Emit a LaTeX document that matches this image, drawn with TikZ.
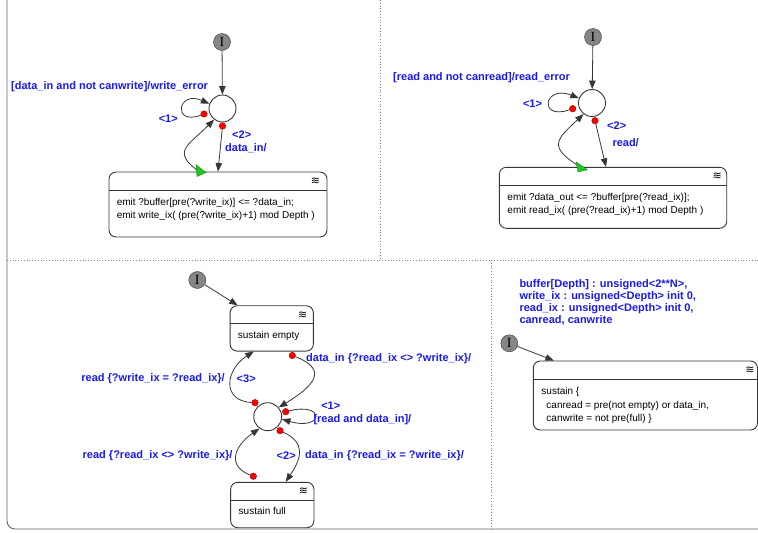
\documentclass[tikz,border=0pt]{standalone}
\usepackage{fontspec}
\setmainfont{Liberation Sans}
\newfontfamily\initfont{Liberation Serif}
\newfontfamily\iconfont{DejaVu Sans}
\usetikzlibrary{arrows.meta}
\definecolor{labelblue}{RGB}{25,25,240}
\definecolor{termgreen}{RGB}{30,200,30}
\definecolor{linegray}{RGB}{55,55,55}
\tikzstyle{init node}    = [circle,draw=linegray,fill=gray!95,inner sep=0,minimum size=17pt,font=\initfont\fontsize{14}{14}\selectfont]
\tikzstyle{simple state} = [circle,draw=linegray,fill=white,inner sep=0,minimum size=27pt,line width=0.9pt]
\tikzstyle{abort dot}    = [circle,draw=red!60!black,fill=red,inner sep=0,minimum size=6.5pt,line width=0.4pt]
\tikzstyle{macro box}    = [rectangle,rounded corners=7pt,draw=linegray,fill=white,line width=0.9pt,inner sep=0]
\tikzstyle{trans}        = [draw=linegray,line width=0.8pt,-{Triangle[length=8.5pt,width=6.5pt]}]
\tikzstyle{trans label}  = [text=labelblue,font=\bfseries\fontsize{11}{12}\selectfont,inner sep=0]
\tikzstyle{body text}    = [font=\fontsize{10}{13.4}\selectfont,align=left,inner sep=0,anchor=base west]
\tikzstyle{wave icon}    = [font=\iconfont\fontsize{11}{11}\selectfont,inner sep=0]
\tikzstyle{term mark}    = [fill=termgreen,draw=termgreen!60!black,line width=0.3pt]

\begin{document}
\begin{tikzpicture}[x=1pt,y=-1pt]
\useasboundingbox (0,0) rectangle (758,533);

    % frame and separators
    \draw[draw=gray!80!black,line width=0.9pt,rounded corners=8pt] (7,0) -- (7,529) -- (758,529);
    \draw[dotted,draw=gray,line width=0.8pt] (380,0) -- (380,260);
    \draw[dotted,draw=gray,line width=0.8pt] (7,260) -- (758,260);
    \draw[dotted,draw=gray,line width=0.8pt] (491,260) -- (491,529);

    % write side
    \node(I1)[init node] at (222,42) {I};
    \node(S1)[simple state] at (222.5,108.5) {};
    \node(B1)[macro box, minimum width=218pt, minimum height=65pt] at (218,204.5) {};
    \draw[draw=linegray,line width=0.8pt] ([yshift=-18.5pt]B1.north west) -- ([yshift=-18.5pt]B1.north east);
    \node(W1)[wave icon] at ([xshift=-12pt,yshift=-9.5pt]B1.north east) {≋};
    \node(T1)[body text] at ([xshift=8pt,yshift=-47pt]B1.north west)
        {emit ?buffer[pre(?write\_ix)] <= ?data\_in;\\emit write\_ix( (pre(?write\_ix)+1) mod Depth )};
    \node(D1a)[abort dot] at (204,114) {};
    \node(D1b)[abort dot] at (222.5,126) {};
    \coordinate (G1) at ([xshift=-19pt]B1.north);

    \draw[trans] (I1) -- (S1);
    \draw[trans] (D1a) .. controls +(-32,12) and +(-32,-14) .. (S1.160);
    \draw[trans] (D1b) -- (B1.north);
    \draw[trans] (G1) .. controls +(-28,-20) and +(-26,26) .. (S1.233);
    \fill[term mark] ([shift={(-3,-7)}]G1) -- ([shift={(-2,5)}]G1) -- ([shift={(7,1)}]G1) -- cycle;

    \node(L1)[trans label, anchor=west] at (11,87) {[data\_in and not canwrite]/write\_error};
    \node(L2)[trans label] at (168.3,118.3) {<1>};
    \node(L3)[trans label] at (241.7,134.3) {<2>};
    \node(L4)[trans label, anchor=west] at (225,147.7) {data\_in/};

    % read side
    \node(I2)[init node] at (593,37) {I};
    \node(S2)[simple state] at (592,103) {};
    \node(B2)[macro box, minimum width=227.4pt, minimum height=61pt] at (613,197.8) {};
    \draw[draw=linegray,line width=0.8pt] ([yshift=-19pt]B2.north west) -- ([yshift=-19pt]B2.north east);
    \node(W2)[wave icon] at ([xshift=-10pt,yshift=-9.5pt]B2.north east) {≋};
    \node(T2)[body text] at ([xshift=8.4pt,yshift=-47pt]B2.north west)
        {emit ?data\_out <= ?buffer[pre(?read\_ix)];\\emit read\_ix( (pre(?read\_ix)+1) mod Depth )};
    \node(D2a)[abort dot] at (572.7,108.7) {};
    \node(D2b)[abort dot] at (595,120.7) {};
    \coordinate (G2) at ([xshift=-33pt]B2.north);

    \draw[trans] (I2) -- (S2);
    \draw[trans] (D2a) .. controls +(-35,12) and +(-35,-14) .. (S2.160);
    \draw[trans] (D2b) -- ([xshift=-7pt]B2.north);
    \draw[trans] (G2) .. controls +(-32,-20) and +(-28,26) .. (S2.233);
    \fill[term mark] ([shift={(-4,-5)}]G2) -- ([shift={(-2,5)}]G2) -- ([shift={(7.5,3)}]G2) -- cycle;

    \node(L5)[trans label, anchor=west] at (393,77.3) {[read and not canread]/read\_error};
    \node(L6)[trans label] at (532.5,104) {<1>};
    \node(L7)[trans label] at (616.7,126) {<2>};
    \node(L8)[trans label, anchor=west] at (612.3,142.7) {read/};

    % empty / full
    \node(I3)[init node] at (197.3,280) {I};
    \node(B3)[macro box, minimum width=83.3pt, minimum height=45.3pt] at (271.7,328.4) {};
    \draw[draw=linegray,line width=0.8pt] ([yshift=-18.5pt]B3.north west) -- ([yshift=-18.5pt]B3.north east);
    \node(W3)[wave icon] at ([xshift=-11pt,yshift=-9.5pt]B3.north east) {≋};
    \node(T3)[body text] at ([xshift=8pt,yshift=-33pt]B3.north west) {sustain empty};
    \node(S3)[simple state, minimum size=28pt] at (267.7,416.7) {};
    \node(B4)[macro box, minimum width=83.3pt, minimum height=45.4pt] at (272.3,505) {};
    \draw[draw=linegray,line width=0.8pt] ([yshift=-18.5pt]B4.north west) -- ([yshift=-18.5pt]B4.north east);
    \node(W4)[wave icon] at ([xshift=-11pt,yshift=-9pt]B4.north east) {≋};
    \node(T4)[body text] at ([xshift=8.3pt,yshift=-33pt]B4.north west) {sustain full};
    \node(D3a)[abort dot] at (285.7,411.7) {};
    \node(D3b)[abort dot] at (280,430.7) {};
    \node(D3c)[abort dot] at (255,402.7) {};
    \node(D3d)[abort dot] at ([xshift=-19pt,yshift=5.6pt]B4.north) {};
    \node(D3e)[abort dot] at ([xshift=20.6pt,yshift=-4pt]B3.south) {};

    \draw[trans] (I3) -- ([xshift=-34pt]B3.north);
    \draw[trans] (D3c) .. controls +(-34,-2) and +(-28,18) .. ([xshift=-18pt]B3.south);
    \draw[trans] (D3e) .. controls +(36,14) and +(36,-22) .. (S3.40);
    \draw[trans] (D3a) .. controls +(40,-10) and +(42,12) .. (S3.-10);
    \draw[trans] (D3b) .. controls +(26,12) and +(16,-24) .. ([xshift=13.4pt]B4.north);
    \draw[trans] (D3d) .. controls +(-26,-10) and +(-26,18) .. (S3.235);

    \node(L9)[trans label, anchor=east] at (225,379) {read \{?write\_ix = ?read\_ix\}/};
    \node(L10)[trans label] at (246.2,379) {<3>};
    \node(L11)[trans label, anchor=west] at (306,359) {data\_in \{?read\_ix <> ?write\_ix\}/};
    \node(L12)[trans label] at (330.8,405.7) {<1>};
    \node(L13)[trans label, anchor=west] at (313.3,419.3) {[read and data\_in]/};
    \node(L14)[trans label, anchor=east] at (232.7,456) {read \{?read\_ix <> ?write\_ix\}/};
    \node(L15)[trans label] at (286.2,456) {<2>};
    \node(L16)[trans label, anchor=west] at (305,456) {data\_in \{?read\_ix = ?write\_ix\}/};

    % declarations
    \node(V)[trans label, align=left, anchor=base west] at (519.3,323.3)
        {buffer[Depth] : unsigned<2**N>,\\write\_ix : unsigned<Depth> init 0,\\read\_ix : unsigned<Depth> init 0,\\canread, canwrite};
    \node(I4)[init node] at (509.3,343.3) {I};
    \node(B5)[macro box, minimum width=224.2pt, minimum height=69pt] at (645.4,395.5) {};
    \draw[draw=linegray,line width=0.8pt] ([yshift=-19pt]B5.north west) -- ([yshift=-19pt]B5.north east);
    \node(W5)[wave icon] at ([xshift=-8pt,yshift=-9.5pt]B5.north east) {≋};
    \node(T5)[body text] at ([xshift=8.4pt,yshift=-61pt]B5.north west)
        {sustain \{\\\hspace*{5pt}canread = pre(not empty) or data\_in,\\\hspace*{5pt}canwrite = not pre(full) \}};
    \draw[trans] (I4) -- ([xshift=21pt]B5.north west);

\end{tikzpicture}
\end{document}
